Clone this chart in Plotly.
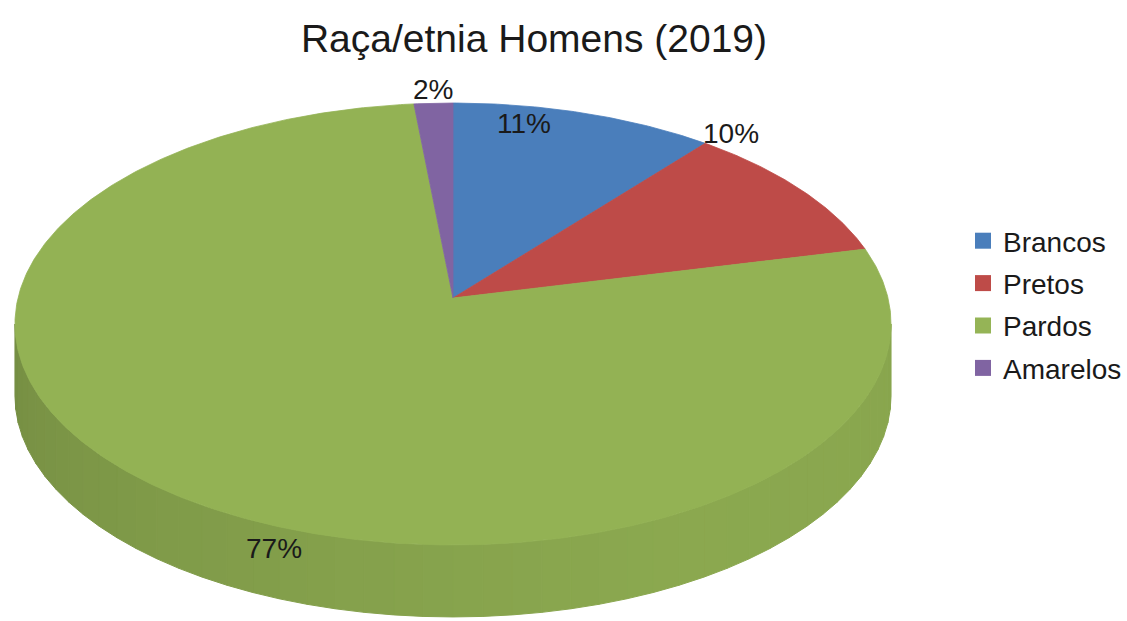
import math
import plotly.graph_objects as go

# ---- data ----
categories = ["Brancos", "Pretos", "Pardos", "Amarelos"]
values = [10.9, 10.4, 77.1, 1.6]
title_text = "Raça/etnia Homens (2019)"

# ---- style ----
top_colors = ["#4A7EBB", "#BE4B48", "#93B254", "#8064A2"]
legend_colors = ["#4A7EBB", "#BE4B48", "#95B456", "#8064A2"]
W, H = 1127, 621
FONT = "Liberation Sans, Arial, sans-serif"

# projected (perspective) pie geometry in pixel space
CX, CY = 453.0, 298.0
A, D, G = 435.0, 217.9, 0.1176
DEPTH = 72.0
label_pos = [(524, 123), (731, 133), (274, 548), (433, 89)]


def proj(theta_deg, dy=0.0):
    t = math.radians(theta_deg)
    u, v = math.sin(t), math.cos(t)
    w = 1.0 + G * v
    return CX + A * u / w, CY - D * v / w + dy


def arc(a0, a1, dy=0.0, n=None):
    if n is None:
        n = max(2, int(abs(a1 - a0) * 2) + 1)
    pts = [proj(a0 + (a1 - a0) * i / (n - 1), dy) for i in range(n)]
    return [p[0] for p in pts], [p[1] for p in pts]


def shade(hexc, f):
    r, g, b = int(hexc[1:3], 16), int(hexc[3:5], 16), int(hexc[5:7], 16)
    return "rgb(%d,%d,%d)" % (r * f, g * f, b * f)


fig = go.Figure()
total = sum(values)
starts, ends = [], []
acc = 0.0
for v in values:
    starts.append(acc / total * 360.0)
    acc += v
    ends.append(acc / total * 360.0)

# visible side of the cylinder (silhouette where cos(theta) = -G)
vis0 = math.degrees(math.acos(-G))
vis1 = 360.0 - vis0

NSTRIP = 48
for i, cat in enumerate(categories):
    a0, a1 = max(starts[i], vis0), min(ends[i], vis1)
    if a1 <= a0:
        continue
    for k in range(NSTRIP):
        s0 = a0 + (a1 - a0) * k / NSTRIP
        s1 = a0 + (a1 - a0) * (k + 1) / NSTRIP
        mid = (s0 + s1) / 2.0
        tpos = (mid - vis0) / (vis1 - vis0)
        f = 0.93 - 0.13 * max(0.0, tpos - 0.35) / 0.65 + 0.02 * math.sin(math.pi * tpos)
        col = shade(top_colors[i], f)
        xt, yt = arc(s0, s1, 0.0, 6)
        xb, yb = arc(s1, s0, DEPTH, 6)
        fig.add_trace(go.Scatter(
            x=xt + xb + [xt[0]], y=yt + yb + [yt[0]],
            mode="lines", fill="toself", fillcolor=col,
            line=dict(color=col, width=1), hoverinfo="skip", showlegend=False))

# top faces
for i, cat in enumerate(categories):
    xa, ya = arc(starts[i], ends[i])
    xs = [CX] + xa + [CX]
    ys = [CY] + ya + [CY]
    fig.add_trace(go.Scatter(
        x=xs, y=ys, mode="lines", fill="toself", fillcolor=top_colors[i],
        line=dict(color=top_colors[i], width=0.8), hoverinfo="skip", showlegend=False))

# legend entries
for i, cat in enumerate(categories):
    fig.add_trace(go.Scatter(
        x=[None], y=[None], mode="markers", name=cat,
        marker=dict(symbol="square", size=16, color=legend_colors[i]),
        legendgroup=cat))

# percentage labels
for i, cat in enumerate(categories):
    pct = round(values[i] / total * 100)
    fig.add_annotation(x=label_pos[i][0], y=label_pos[i][1], text="%d%%" % pct,
                       showarrow=False, xanchor="center", yanchor="middle",
                       font=dict(family=FONT, size=28, color="#1a1a1a"))

fig.update_layout(
    width=W, height=H,
    margin=dict(l=0, r=0, t=0, b=0),
    paper_bgcolor="white", plot_bgcolor="white",
    xaxis=dict(range=[0, W], visible=False, fixedrange=True),
    yaxis=dict(range=[H, 0], visible=False, fixedrange=True),
    title=dict(text=title_text, x=534 / W, xanchor="center",
               y=1 - 38 / H, yanchor="middle", yref="container",
               font=dict(family=FONT, size=39, color="#1a1a1a")),
    legend=dict(x=963 / W, xanchor="left", y=1 - 216 / H, yanchor="top",
                font=dict(family=FONT, size=28, color="#1a1a1a"),
                tracegroupgap=3, bgcolor="rgba(0,0,0,0)"),
    showlegend=True,
)

fig.write_html("out.html")
